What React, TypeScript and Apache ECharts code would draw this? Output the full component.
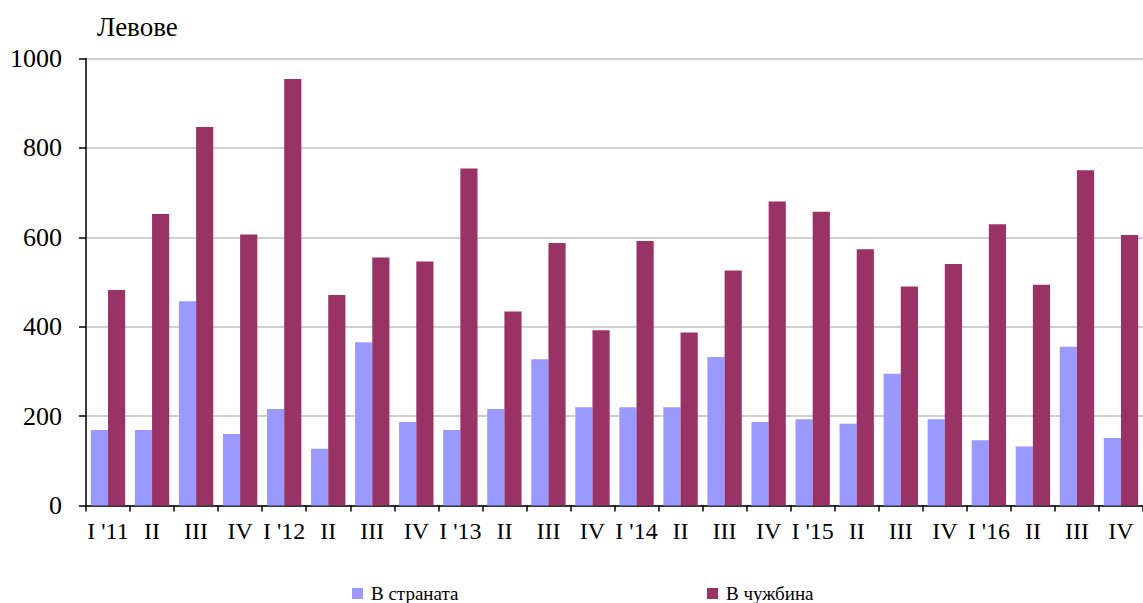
import React, { useEffect, useRef } from "react";
import * as echarts from "echarts";

const categories = [
  "I '11", "II", "III", "IV",
  "I '12", "II", "III", "IV",
  "I '13", "II", "III", "IV",
  "I '14", "II", "III", "IV",
  "I '15", "II", "III", "IV",
  "I '16", "II", "III", "IV",
];

const domestic = [
  169, 169, 457, 160,
  216, 127, 365, 187,
  169, 216, 327, 220,
  220, 220, 332, 187,
  193, 183, 295, 193,
  146, 132, 355, 151,
];

const abroad = [
  482, 652, 847, 606,
  954, 471, 555, 546,
  754, 434, 587, 392,
  592, 387, 526, 680,
  657, 573, 490, 540,
  629, 494, 750, 605,
];

const seriesNames = ["В страната", "В чужбина"];
const yTicks = { min: 0, max: 1000, interval: 200 };
const unitLabel = "Левове";

const FONT = "Times New Roman";

export default function App() {
  const ref = useRef<HTMLDivElement>(null);

  useEffect(() => {
    if (!ref.current) return;
    const chart = echarts.init(ref.current, undefined, { renderer: "svg" });
    chart.setOption({
      animation: false,
      backgroundColor: "#ffffff",
      textStyle: { fontFamily: FONT },
      title: {
        text: unitLabel,
        left: 92,
        top: 8,
        textStyle: { fontFamily: FONT, fontSize: 27, fontWeight: "normal", color: "#000" },
      },
      legend: [
        {
          data: [seriesNames[0]],
          left: 347,
          top: 579,
          itemWidth: 11,
          itemHeight: 11,
          icon: "rect",
          textStyle: { fontFamily: FONT, fontSize: 19, lineHeight: 19, color: "#000", padding: [0, 0, 0, 3] },
        },
        {
          data: [seriesNames[1]],
          left: 702,
          top: 579,
          itemWidth: 11,
          itemHeight: 11,
          icon: "rect",
          textStyle: { fontFamily: FONT, fontSize: 19, lineHeight: 19, color: "#000", padding: [0, 0, 0, 3] },
        },
      ],
      grid: { left: 86, top: 58.5, bottom: 97.5, right: -6, containLabel: false },
      xAxis: {
        type: "category",
        data: categories,
        axisLine: { lineStyle: { color: "#000", width: 1.5 } },
        axisTick: { show: true, alignWithLabel: false, length: 6, lineStyle: { color: "#000", width: 1.5 } },
        axisLabel: { fontFamily: FONT, fontSize: 24, color: "#000", margin: 13, interval: 0 },
        splitLine: { show: false },
      },
      yAxis: {
        type: "value",
        min: yTicks.min,
        max: yTicks.max,
        interval: yTicks.interval,
        axisLine: { show: true, lineStyle: { color: "#000", width: 1.5 } },
        axisTick: { show: true, length: 7, lineStyle: { color: "#000", width: 1.5 } },
        axisLabel: {
          fontFamily: FONT,
          fontSize: 26,
          color: "#000",
          margin: 24,
          formatter: (v: number) => String(v),
        },
        splitLine: { show: true, lineStyle: { color: "#c0c0c0", width: 1.5 } },
      },
      series: [
        {
          name: seriesNames[0],
          type: "bar",
          data: domestic,
          barGap: "0%",
          barCategoryGap: "22%",
          itemStyle: { color: "#9999FF" },
        },
        {
          name: seriesNames[1],
          type: "bar",
          data: abroad,
          barGap: "0%",
          barCategoryGap: "22%",
          itemStyle: { color: "#993366" },
        },
      ],
    });
    return () => chart.dispose();
  }, []);

  return <div ref={ref} style={{ width: 1143, height: 603, position: "absolute", left: 0, top: 0 }} />;
}
